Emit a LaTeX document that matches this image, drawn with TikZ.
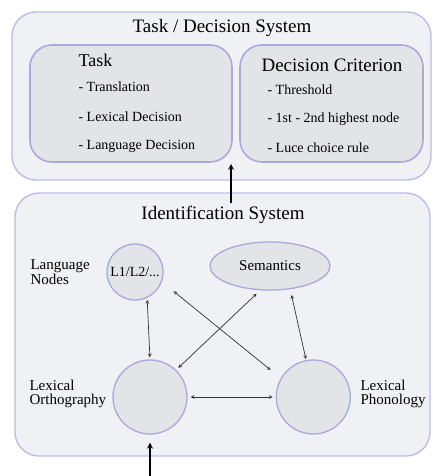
\documentclass[tikz,border=0pt]{standalone}
\usepackage{fontspec}
\setmainfont{Liberation Serif}
\usetikzlibrary{automata, positioning, arrows, shapes.geometric}
\definecolor{panelfill}{HTML}{EFF1F5}
\definecolor{panelline}{HTML}{BDBDE4}
\definecolor{boxfill}{HTML}{E2E4E8}
\definecolor{boxline}{HTML}{A9A9DC}
\definecolor{linkgray}{HTML}{333333}
\tikzset{
    >=stealth, % makes the arrow heads small and filled
    panel/.style={draw=panelline, fill=panelfill, line width=1.4pt, rounded corners=24pt, inner sep=0pt}, % the two big systems
    subpanel/.style={draw=boxline, fill=boxfill, line width=1.6pt, rounded corners=22pt, inner sep=0pt}, % task and criterion boxes
    every state/.style={draw=boxline, fill=boxfill, line width=1.3pt, inner sep=0pt}, % sets the properties for each 'state' node
    title/.style={font=\fontsize{19}{22}\selectfont}, % system names
    item/.style={anchor=west, font=\fontsize{14}{16}\selectfont}, % list entries
    sidetext/.style={anchor=west, align=left, font=\fontsize{15}{13.5}\selectfont}, % names beside the nodes
    link/.style={<->, draw=linkgray, line width=0.7pt}, % connections between nodes
    feed/.style={->, line width=1.6pt}, % input arrows
}
\begin{document}
\begin{tikzpicture}[x=1pt, y=-1pt]
    \useasboundingbox (0,0) rectangle (433,476);
    % task / decision system
    \node[panel, minimum width=419pt, minimum height=168pt] (tds) at (221.5,96) {};
    \node[title] (tdstitle) at (222,28) {Task / Decision System};
    \node[subpanel, minimum width=202pt, minimum height=117pt] (taskbox) at (131,103.5) {};
    \node[subpanel, minimum width=183pt, minimum height=117pt] (critbox) at (331.5,103.5) {};
    \node[anchor=west, font=\fontsize{18}{20}\selectfont] (tasktitle) at (75,60) {Task};
    \node[item] (task1) at (75,87) {- Translation};
    \node[item] (task2) at (75,117) {- Lexical Decision};
    \node[item] (task3) at (75,146) {- Language Decision};
    \node[title] (crittitle) at (332,65) {Decision Criterion};
    \node[item] (crit1) at (264,90) {- Threshold};
    \node[item] (crit2) at (264,119) {- 1st - 2nd highest node};
    \node[item] (crit3) at (264,148) {- Luce choice rule};
    % identification system
    \node[panel, minimum width=415pt, minimum height=263pt] (ids) at (222.5,324.5) {};
    \node[title] (idstitle) at (223,215) {Identification System};
    \node[state, minimum size=56pt, font=\fontsize{14}{16}\selectfont] (l1) at (135,272) {L1/L2/...};
    \node[state, ellipse, minimum width=120pt, minimum height=48pt, font=\fontsize{15}{17}\selectfont] (sem) at (270,266) {Semantics};
    \node[state, minimum size=74pt] (lexorth) at (150,397) {};
    \node[state, minimum size=74pt, right=88pt of lexorth] (lexphon) {};
    \node[sidetext] (langlabel) at (27,272) {Language\\Nodes};
    \node[sidetext] (orthlabel) at (26,394) {Lexical\\Orthography};
    \node[sidetext] (phonlabel) at (357,394) {Lexical\\Phonology};
    % connections
    \draw
    (l1.-65) edge[link, shorten <=2pt, shorten >=2pt] (lexorth.90)
    (sem.-49) edge[link, shorten <=6pt, shorten >=1pt] (lexphon.101)
    (l1.-20) edge[link, shorten <=15pt, shorten >=13pt] (lexphon.150)
    (sem.-112) edge[link, shorten <=5pt, shorten >=3pt] (lexorth.46)
    (lexorth) edge[link, shorten <=3pt, shorten >=3pt] (lexphon)
    ;
    \coordinate (inflow) at (150,476);
    \coordinate (idsout) at (231,203);
    \coordinate (tdsin) at (231,164);
    \draw[feed, shorten >=8pt] (inflow) -- (lexorth);
    \draw[feed] (idsout) -- (tdsin);
\end{tikzpicture}
\end{document}
